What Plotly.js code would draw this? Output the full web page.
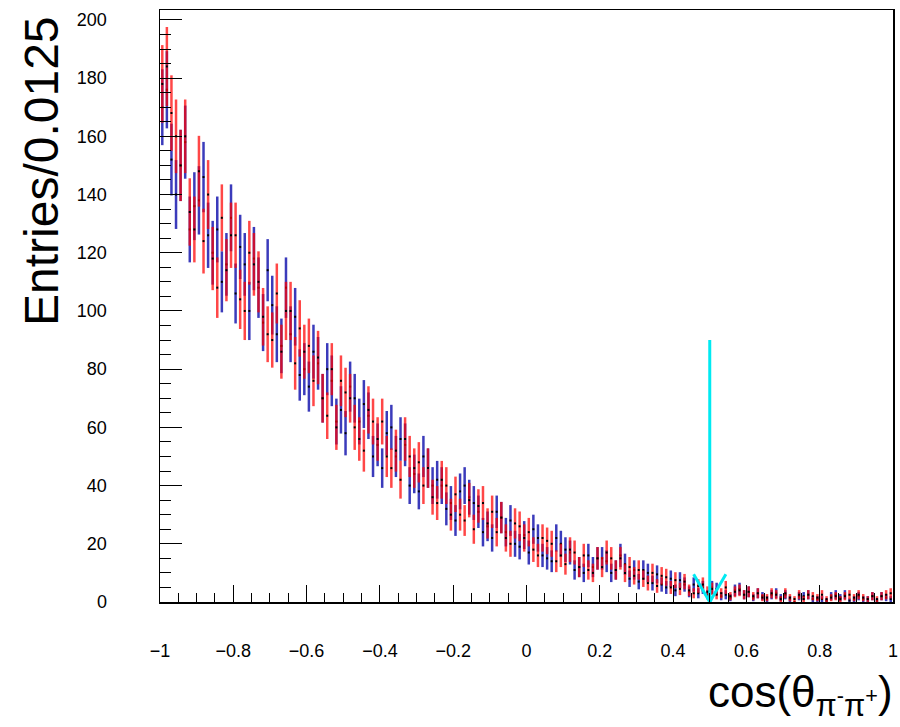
<!DOCTYPE html>
<html>
<head>
<meta charset="utf-8">
<script src="https://cdn.plot.ly/plotly-3.0.1.min.js"></script>
<style>
  html, body { margin: 0; padding: 0; background: #ffffff; }
  #chart { width: 900px; height: 727px; }
</style>
</head>
<body>
<div id="chart"></div>
<script>
// Histogram binning: 160 bins of width 0.0125 from -1 to 1
const binLow = -1;
const binWidth = 0.0125;

// Bin contents (blue series)
const blueCounts = [
  170,176,152,140, 150,158,128,136, 138,146,126,120, 128,110,116,132,
  106,122,116,100, 118,108,96,114, 102,92,88,108, 92,98,78,80,
  74,86,82,70, 80,76,62,66, 58,74,70,62, 68,64,50,54,
  46,58,60,50, 56,54,40,44, 38,50,46,40, 42,40,32,34,
  28,38,40,36, 34,31,24,26, 22,31,29,24, 28,20,19,23,
  17,25,22,16, 15,14,22,20, 18,17,11,12, 10,16,12,15,
  15,14,10,11, 16,13,8,11, 7,11,10,6.5, 9.5,6,5,8,
  4,7.5,6,3.5, 6,3,5,2.5, 5,4.5,2,2.5, 1.5,4,4.5,2.5,
  3.5,1.5,3,2, 1,2.5,3,1.5, 2.5,1,0,2, 2,2.5,1,1,
  1,0.5,2,2.5, 1.5,2.5,0.5,1, 2,1,1,2, 0.5,2,1.5,1
];

// Bin contents (red series)
const redCounts = [
  178,184,168,160, 150,160,134,128, 148,124,140,118, 108,132,114,126,
  126,104,100,120, 116,110,98,92, 90,106,86,100, 100,82,94,86,
  88,76,84,70, 64,80,60,76, 72,70,60,56, 52,66,62,56,
  62,50,46,52, 42,56,50,46, 48,40,46,36, 34,42,40,30,
  37,30,28,35, 25,33,34,27, 31,24,29,22, 20,27,26,22,
  24,18,16,22, 21,20,14,16, 13,18,17,12, 16,11,10,15,
  12,17,15,11, 15,10,12,9, 11,8,6.5,10, 5.5,9,8.5,5,
  7.5,4.5,7,4, 3,5.5,6,3.5, 4.5,2.5,3,5, 2,3.5,4,2.5,
  3.5,2,3,1.5, 1.5,3,2.5,1, 3,1.5,1,2.5, 1,2.5,2,1.5,
  2.5,1,1.5,2, 1,2,2.5,1.5, 2.5,1.5,1,2, 1,2,2.5,3
];

// Cut arrow
const cutValue = 0.5;
const arrowTop = 90;
const arrowHeadHalfWidth = 0.044;
const arrowHeadHeight = 9.5;

// Axis ticks
const xTickVals = [-1, -0.8, -0.6, -0.4, -0.2, 0, 0.2, 0.4, 0.6, 0.8, 1];
const xTickText = ['\u22121', '\u22120.8', '\u22120.6', '\u22120.4', '\u22120.2', '0', '0.2', '0.4', '0.6', '0.8', '1'];
const yTickVals = [0, 20, 40, 60, 80, 100, 120, 140, 160, 180, 200];

const binCenters = blueCounts.map((_, i) => binLow + binWidth * (i + 0.5));
const errOf = arr => arr.map(v => Math.sqrt(v));

const FONT = 'Liberation Sans, Arial, Helvetica, sans-serif';

const blueTrace = {
  type: 'scatter', mode: 'markers',
  x: binCenters, y: blueCounts,
  marker: { symbol: 'square', size: 2, color: '#000000' },
  error_y: { type: 'data', array: errOf(blueCounts), visible: true,
             color: 'rgba(25,25,175,0.85)', thickness: 2.5, width: 0 },
  hoverinfo: 'x+y', showlegend: false
};
const redTrace = {
  type: 'scatter', mode: 'markers',
  x: binCenters, y: redCounts,
  marker: { symbol: 'square', size: 2, color: '#000000' },
  error_y: { type: 'data', array: errOf(redCounts), visible: true,
             color: 'rgba(255,0,0,0.72)', thickness: 2.5, width: 0 },
  hoverinfo: 'x+y', showlegend: false
};
const arrowTrace = {
  type: 'scatter', mode: 'lines',
  x: [cutValue, cutValue, null, cutValue - arrowHeadHalfWidth, cutValue, cutValue + arrowHeadHalfWidth],
  y: [arrowTop, 0, null, arrowHeadHeight, 0, arrowHeadHeight],
  line: { color: '#00eaf2', width: 3 },
  hoverinfo: 'skip', showlegend: false, cliponaxis: false
};

const layout = {
  width: 900, height: 727,
  margin: { l: 160, r: 7, t: 10, b: 125 },
  paper_bgcolor: '#ffffff', plot_bgcolor: '#ffffff',
  font: { family: FONT, color: '#000000', size: 18 },
  showlegend: false,
  xaxis: {
    range: [-1, 1], tickmode: 'array', tickvals: xTickVals, ticktext: xTickText,
    ticks: 'inside', ticklen: 17, tickwidth: 1, tickcolor: '#000000',
    minor: { dtick: 0.05, tick0: 0, ticks: 'inside', ticklen: 9, tickwidth: 1, tickcolor: '#000000', showgrid: false },
    showline: true, linecolor: '#000000', linewidth: 1.5, mirror: true,
    showgrid: false, zeroline: false,
    tickfont: { family: FONT, size: 18, color: '#000000' },
    ticklabelstandoff: 32
  },
  yaxis: {
    range: [0, 203.4], tickmode: 'array', tickvals: yTickVals,
    ticks: 'inside', ticklen: 22, tickwidth: 1, tickcolor: '#000000',
    minor: { dtick: 5, tick0: 0, ticks: 'inside', ticklen: 11, tickwidth: 1, tickcolor: '#000000', showgrid: false },
    showline: true, linecolor: '#000000', linewidth: 1.5, mirror: true,
    showgrid: false, zeroline: false,
    tickfont: { family: FONT, size: 18, color: '#000000' },
    ticklabelstandoff: 48
  },
  annotations: [
    {
      text: 'Entries/0.0125', textangle: -90,
      xref: 'paper', yref: 'paper', x: 0, y: 1,
      xanchor: 'center', yanchor: 'top', xshift: -119, yshift: -4,
      showarrow: false, font: { family: FONT, size: 48, color: '#000000' }
    },
    {
      text: 'cos(\u03b8<sub>\u03c0<sup>-</sup>\u03c0<sup>+</sup></sub>)',
      xref: 'paper', yref: 'paper', x: 1, y: 0,
      xanchor: 'right', yanchor: 'top', xshift: 2, yshift: -63,
      showarrow: false, font: { family: FONT, size: 44, color: '#000000' }
    }
  ]
};

Plotly.newPlot('chart', [blueTrace, redTrace, arrowTrace], layout, { displayModeBar: false, staticPlot: true });
</script>
</body>
</html>
